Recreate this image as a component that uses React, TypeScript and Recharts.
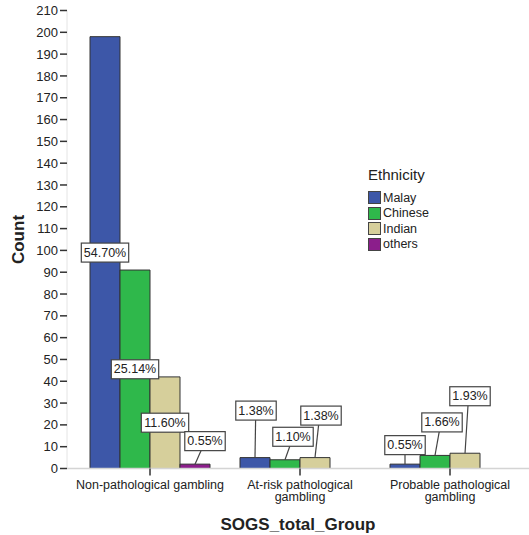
import { BarChart, Bar, XAxis, YAxis } from 'recharts';

const groups = ['Non-pathological gambling', 'At-risk pathological\ngambling', 'Probable pathological\ngambling'];
const ethnicities = ['Malay', 'Chinese', 'Indian', 'others'];
const malay = [198, 5, 2];
const chinese = [91, 4, 6];
const indian = [42, 5, 7];
const others = [2, 0, 0];
const yTicks = [0, 10, 20, 30, 40, 50, 60, 70, 80, 90, 100, 110, 120, 130, 140, 150, 160, 170, 180, 190, 200, 210];

const seriesValues: Record<string, number[]> = { Malay: malay, Chinese: chinese, Indian: indian, others };
const TOTAL = [...malay, ...chinese, ...indian, ...others].reduce((a, b) => a + b, 0);

const data = groups.map((group, i) => {
  const row: Record<string, string | number> = { group };
  ethnicities.forEach(e => { row[e] = seriesValues[e][i]; });
  return row;
});

const COLORS: Record<string, string> = {
  Malay: '#3d57a8',
  Chinese: '#2fb84b',
  Indian: '#d6cf9b',
  others: '#8b1e8b',
};

// label placement per group: null = centred in the bar, else [dx, lift above bar top] in px
const labelNudge: Record<string, ([number, number] | null)[]> = {
  Malay: [null, [1, 47], [0, 19]],
  Chinese: [null, [8, 23], [7, 33]],
  Indian: [null, [6, 42], [5, 57]],
  others: [[10, 23], null, null],
};

const FONT = '"Liberation Sans", Arial, sans-serif';

// rough Arial widths in em
function textWidth(s: string, size: number): number {
  let w = 0;
  for (const ch of s) {
    if (ch === '.') w += 0.278;
    else if (ch === '%') w += 0.889;
    else w += 0.556;
  }
  return w * size;
}

function PctLabel(props: any) {
  const { value, index, series } = props;
  const vb = props.viewBox ?? props;
  const { x, y, width, height } = vb;
  if (!value) return null;
  const pct = ((value / TOTAL) * 100).toFixed(2) + '%';
  const fs = 12.5;
  const w = textWidth(pct, fs) + 5;
  const h = 19;
  const cx = x + width / 2;
  const nudge = labelNudge[series]?.[index] ?? null;
  const bx = nudge ? cx + nudge[0] : cx;
  const by = nudge ? y - nudge[1] : y + height / 2;
  return (
    <g>
      {nudge && (
        <line x1={cx} y1={y} x2={bx - nudge[0] * 0.4} y2={by + h / 2} stroke="#444" strokeWidth={1.2} />
      )}
      <rect x={bx - w / 2} y={by - h / 2} width={w} height={h} fill="#fff" stroke="#444" strokeWidth={1.2} />
      <text x={bx} y={by} textAnchor="middle" dominantBaseline="central" fontSize={fs} fontFamily={FONT} fill="#222">
        {pct}
      </text>
    </g>
  );
}

function GroupTick({ x, y, payload }: any) {
  const lines = String(payload.value).split('\n');
  return (
    <text x={x} y={y + 11} textAnchor="middle" fontSize={12.5} fontFamily={FONT} fill="#222">
      {lines.map((l, i) => (
        <tspan key={i} x={x} dy={i === 0 ? 0 : 12.5}>{l}</tspan>
      ))}
    </text>
  );
}

function EthnicityLegend() {
  return (
    <div style={{ position: 'absolute', left: 368, top: 166, fontFamily: FONT, color: '#222' }}>
      <div style={{ fontSize: 15, lineHeight: '18px', marginBottom: 6 }}>Ethnicity</div>
      {ethnicities.map(e => (
        <div key={e} style={{ display: 'flex', alignItems: 'center', height: 15.5, fontSize: 12.5 }}>
          <span style={{ width: 11, height: 11, background: COLORS[e], border: '1px solid #444', marginRight: 2 }} />
          {e}
        </div>
      ))}
    </div>
  );
}

export default function App() {
  return (
    <div style={{ position: 'absolute', left: 0, top: 0, width: 529, height: 535, background: '#fff' }}>
      <BarChart
        width={529}
        height={535}
        data={data}
        margin={{ top: 10.5, right: 0, bottom: 0, left: 0 }}
        barCategoryGap="10%"
        barGap={0}
      >
        <XAxis
          dataKey="group"
          tick={<GroupTick />}
          interval={0}
          tickSize={7}
          tickLine={{ stroke: '#333', strokeWidth: 1.5 }}
          axisLine={{ stroke: '#d4d4d4', strokeWidth: 1.5 }}
          padding={{ left: 8, right: 4 }}
          height={66.5}
          label={{
            value: 'SOGS_total_Group',
            position: 'insideBottom',
            offset: 5,
            fontSize: 17,
            fontWeight: 'bold',
            fontFamily: FONT,
            fill: '#222',
          }}
        />
        <YAxis
          domain={[0, 210]}
          ticks={yTicks}
          interval={0}
          width={67}
          tickSize={7}
          tickLine={{ stroke: '#333', strokeWidth: 1.5 }}
          axisLine={{ stroke: '#e4e4e4' }}
          tick={{ fontSize: 13, fontFamily: FONT, fill: '#222' }}
          label={(p: any) => {
            const vb = p.viewBox;
            const cx = 18;
            const cy = vb.y + vb.height / 2;
            return (
              <text
                x={cx}
                y={cy}
                transform={`rotate(-90 ${cx} ${cy})`}
                textAnchor="middle"
                dominantBaseline="central"
                fontSize={17}
                fontWeight="bold"
                fontFamily={FONT}
                fill="#222"
              >
                Count
              </text>
            );
          }}
        />
        {ethnicities.map(e => (
          <Bar
            key={e}
            dataKey={e}
            fill={COLORS[e]}
            stroke="#333"
            strokeWidth={1}
            isAnimationActive={false}
            label={(p: any) => <PctLabel {...p} series={e} />}
          />
        ))}
      </BarChart>
      <EthnicityLegend />
    </div>
  );
}
